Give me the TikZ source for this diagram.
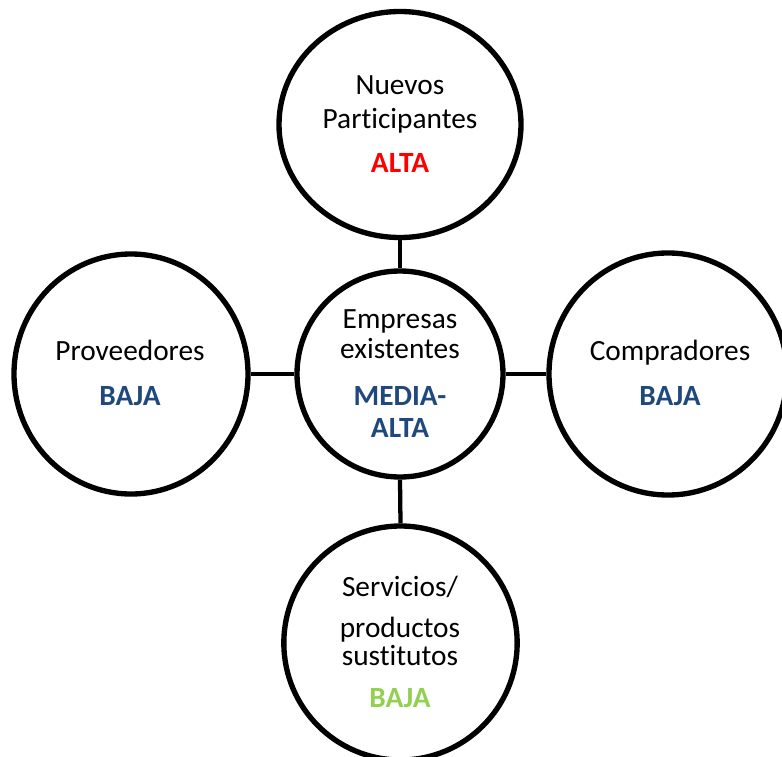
\documentclass[tikz,border=0pt]{standalone}
\usepackage{fontspec}
\setmainfont[Ligatures=NoCommon]{Carlito}
\usetikzlibrary{shapes.geometric}
\definecolor{levelblue}{HTML}{1F497D}
\definecolor{levelred}{HTML}{FF0000}
\definecolor{levelgreen}{HTML}{92D050}
\begin{document}
\begin{tikzpicture}[x=0.75pt,y=-0.75pt,
  force/.style={draw=black, line width=4pt, ellipse, inner sep=0pt},
  link/.style={draw=black, line width=3.2pt},
  lbl/.style={inner sep=0pt, anchor=base, font=\fontsize{22}{24}\selectfont},
  lvl/.style={inner sep=0pt, anchor=base, font=\fontsize{22}{24}\selectfont\bfseries}]
\useasboundingbox (0,0) rectangle (782,757);

% the five forces
\node[force, minimum width=181.5pt, minimum height=169.5pt] (entrants) at (400,124.5) {};
\node[force, minimum width=154.5pt, minimum height=154.5pt] (rivals) at (400,374) {};
\node[force, minimum width=175.5pt, minimum height=180pt] (suppliers) at (131,374) {};
\node[force, minimum width=178.5pt, minimum height=181.5pt] (buyers) at (668,374) {};
\node[force, minimum width=175pt, minimum height=175.5pt] (substitutes) at (400.5,643) {};

% links to the centre
\draw[link] (entrants.south) -- (rivals.north);
\draw[link] (suppliers.east) -- (rivals.west);
\draw[link] (rivals.east) -- (buyers.west);
\draw[link] (rivals.south) -- (substitutes.north);

% labels
\node[lbl] (t1) at (400,94) {Nuevos};
\node[lbl] (t2) at (400,128) {Participantes};
\node[lvl, text=levelred] (t3) at (400,172) {ALTA};

\node[lbl] (c1) at (400,328) {Empresas};
\node[lbl] (c2) at (400,358) {existentes};
\node[lvl, text=levelblue] (c3) at (400,405) {MEDIA-};
\node[lvl, text=levelblue] (c4) at (400,437) {ALTA};

\node[lbl] (l1) at (130,360) {Proveedores};
\node[lvl, text=levelblue] (l2) at (130,405) {BAJA};

\node[lbl] (r1) at (670,360) {Compradores};
\node[lvl, text=levelblue] (r2) at (670,405) {BAJA};

\node[lbl] (b1) at (400,596) {Servicios/};
\node[lbl] (b2) at (400,637) {productos};
\node[lbl] (b3) at (400,665) {sustitutos};
\node[lvl, text=levelgreen] (b4) at (400,707) {BAJA};
\end{tikzpicture}
\end{document}
